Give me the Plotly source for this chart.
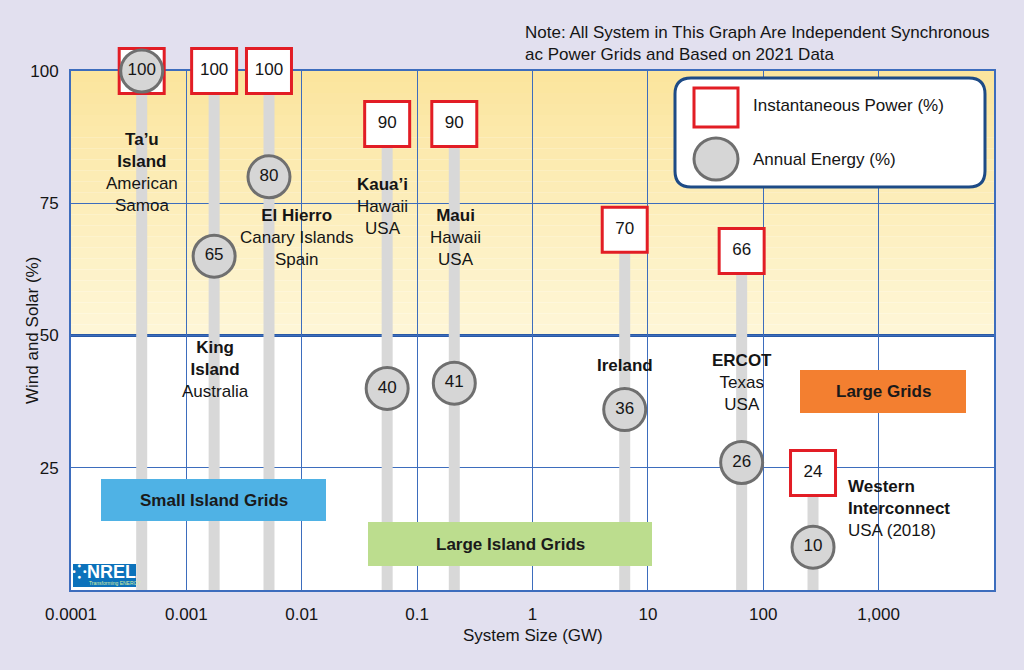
import plotly.graph_objects as go

# ---------------- data ----------------
grid_names = ["Ta’u Island", "King Island", "El Hierro", "Kaua’i", "Maui",
              "Ireland", "ERCOT", "Western Interconnect"]
system_size_gw = [0.00041, 0.00174, 0.0052, 0.055, 0.21, 6.3, 65, 270]
instantaneous_power_pct = [100, 100, 100, 90, 90, 70, 66, 24]
annual_energy_pct = [100, 65, 80, 40, 41, 36, 26, 10]

x_tick_values = [0.0001, 0.001, 0.01, 0.1, 1, 10, 100, 1000]
x_tick_labels = ["0.0001", "0.001", "0.01", "0.1", "1", "10", "100", "1,000"]
y_tick_values = [25, 50, 75, 100]

grid_label_lines = [
    "<b>Ta’u<br>Island</b><br>American<br>Samoa",
    "<b>King<br>Island</b><br>Australia",
    "<b>El Hierro</b><br>Canary Islands<br>Spain",
    "<b>Kaua’i</b><br>Hawaii<br>USA",
    "<b>Maui</b><br>Hawaii<br>USA",
    "<b>Ireland</b>",
    "<b>ERCOT</b><br>Texas<br>USA",
    "<b>Western<br>Interconnect</b><br>USA (2018)",
]
category_names = ["Small Island Grids", "Large Island Grids", "Large Grids"]
note_text = ("Note: All System in This Graph Are Independent Synchronous<br>"
             "ac Power Grids and Based on 2021 Data")

# ---------------- layout geometry (pixels) ----------------
W_FIG, H_FIG = 1024, 670
L, R, T, B = 71, 994, 71, 590
PW, PH = R - L, B - T
FONT = "Liberation Sans, Arial, Helvetica, sans-serif"
FS = 17
BG = "#e2e0ef"
BLUE = "#3d6dbd"
DARKBLUE = "#2a5aa6"
TXT = "#151515"


def px(x):
    return (x - L) / PW


def py(y):
    return (B - y) / PH


fig = go.Figure()

# rods
rx, ry = [], []
for s, v in zip(system_size_gw, instantaneous_power_pct):
    rx += [s, s, None]
    ry += [0, v, None]
fig.add_trace(go.Scatter(x=rx, y=ry, mode="lines",
                         line=dict(color="#d8d8d8", width=11),
                         hoverinfo="skip", showlegend=False))

# instantaneous power squares
fig.add_trace(go.Scatter(
    x=system_size_gw, y=instantaneous_power_pct, mode="markers+text",
    text=[str(v) for v in instantaneous_power_pct], textposition="middle center",
    textfont=dict(family=FONT, size=FS, color=TXT),
    marker=dict(symbol="square", size=45, color="white",
                line=dict(color="#e21d25", width=3)),
    cliponaxis=False, showlegend=False, name="Instantaneous Power (%)"))

# annual energy circles
fig.add_trace(go.Scatter(
    x=system_size_gw, y=annual_energy_pct, mode="markers+text",
    text=[str(v) for v in annual_energy_pct], textposition="middle center",
    textfont=dict(family=FONT, size=FS, color=TXT),
    marker=dict(symbol="circle", size=42, color="#d6d6d6",
                line=dict(color="#6f6f6f", width=3)),
    cliponaxis=False, showlegend=False, name="Annual Energy (%)"))

shapes = []
# yellow gradient band 50-100
n = 24
c_top = (251, 229, 158)
c_bot = (254, 246, 214)
for i in range(n):
    f = i / (n - 1)
    col = tuple(round(c_bot[k] + (c_top[k] - c_bot[k]) * f) for k in range(3))
    shapes.append(dict(type="rect", xref="paper", yref="y", layer="below",
                       x0=0, x1=1, y0=50 + 50 * i / n, y1=50 + 50 * (i + 1) / n,
                       line=dict(width=0), fillcolor="rgb(%d,%d,%d)" % col))
# thick 50 line
shapes.append(dict(type="line", xref="paper", yref="y", layer="between",
                   x0=0, x1=1, y0=50, y1=50, line=dict(color=DARKBLUE, width=3)))

# category boxes
cat_boxes = [(101, 479, 326, 521, "#4fb2e5"),
             (368, 522, 652, 566, "#bcdd8e"),
             (800, 370, 966, 413, "#f37f30")]
for (x0, y0, x1, y1, c) in cat_boxes:
    shapes.append(dict(type="rect", xref="paper", yref="paper", layer="above",
                       x0=px(x0), x1=px(x1), y0=py(y1), y1=py(y0),
                       line=dict(width=0), fillcolor=c))

# NREL logo box
shapes.append(dict(type="rect", xref="paper", yref="paper", layer="above",
                   x0=px(73), x1=px(136), y0=py(587), y1=py(564),
                   line=dict(width=0), fillcolor="#0c72bb"))


# legend rounded box
def rrect(x0, y0, x1, y1, r):
    def P(x, y):
        return "%f,%f" % (px(x), py(y))
    return ("M %s L %s Q %s %s L %s Q %s %s L %s Q %s %s L %s Q %s %s Z" % (
        P(x0 + r, y0), P(x1 - r, y0), P(x1, y0), P(x1, y0 + r),
        P(x1, y1 - r), P(x1, y1), P(x1 - r, y1),
        P(x0 + r, y1), P(x0, y1), P(x0, y1 - r),
        P(x0, y0 + r), P(x0, y0), P(x0 + r, y0)))


shapes.append(dict(type="path", xref="paper", yref="paper", layer="above",
                   path=rrect(675, 78, 985, 187, 16),
                   line=dict(color="#1d4b86", width=3), fillcolor="white"))
shapes.append(dict(type="rect", xref="paper", yref="paper", layer="above",
                   x0=px(694), x1=px(738), y0=py(127), y1=py(88),
                   line=dict(color="#e21d25", width=3), fillcolor="white"))
shapes.append(dict(type="circle", xref="paper", yref="paper", layer="above",
                   x0=px(694), x1=px(738), y0=py(180), y1=py(138),
                   line=dict(color="#6f6f6f", width=3), fillcolor="#d6d6d6"))

annotations = []
# grid labels (pixel placement)
label_pos = [(142, 172, "center"), (215, 369, "center"), (296, 237, "center"),
             (382, 206, "center"), (455, 237, "center"), (625, 365, "center"),
             (742, 382, "center"), (846, 508, "left")]
for txt, (x, y, al) in zip(grid_label_lines, label_pos):
    annotations.append(dict(text=txt, xref="paper", yref="paper",
                            x=px(x), y=py(y), xanchor="center" if al == "center" else "left",
                            yanchor="middle", align=al, showarrow=False,
                            font=dict(family=FONT, size=FS, color=TXT)))

# category labels
for name, (x0, y0, x1, y1, c) in zip(category_names, cat_boxes):
    annotations.append(dict(text="<b>%s</b>" % name, xref="paper", yref="paper",
                            x=px((x0 + x1) / 2), y=py((y0 + y1) / 2),
                            xanchor="center", yanchor="middle", showarrow=False,
                            font=dict(family=FONT, size=FS, color="#1a1a1a")))

# legend text
annotations.append(dict(text="Instantaneous Power (%)", xref="paper", yref="paper",
                        x=px(751), y=py(106), xanchor="left", yanchor="middle",
                        showarrow=False, font=dict(family=FONT, size=FS, color=TXT)))
annotations.append(dict(text="Annual Energy (%)", xref="paper", yref="paper",
                        x=px(751), y=py(159), xanchor="left", yanchor="middle",
                        showarrow=False, font=dict(family=FONT, size=FS, color=TXT)))
# note
annotations.append(dict(text=note_text, xref="paper", yref="paper",
                        x=px(523), y=py(44), xanchor="left", yanchor="middle",
                        align="left", showarrow=False,
                        font=dict(family=FONT, size=FS, color=TXT)))
# axis titles
annotations.append(dict(text="Wind and Solar (%)", xref="paper", yref="paper",
                        x=px(32), y=py(331), xanchor="center", yanchor="middle",
                        textangle=-90, showarrow=False,
                        font=dict(family=FONT, size=FS, color=TXT)))
annotations.append(dict(text="System Size (GW)", xref="paper", yref="paper",
                        x=px(533), y=py(635), xanchor="center", yanchor="middle",
                        showarrow=False, font=dict(family=FONT, size=FS, color=TXT)))
# NREL logo text
annotations.append(dict(text="<b>⁘NREL</b>", xref="paper", yref="paper",
                        x=px(104), y=py(572), xanchor="center", yanchor="middle",
                        showarrow=False, font=dict(family=FONT, size=18, color="white")))
annotations.append(dict(text="Transforming ENERGY", xref="paper", yref="paper",
                        x=px(115), y=py(583), xanchor="center", yanchor="middle",
                        showarrow=False, font=dict(family=FONT, size=5, color="#d8f0a0")))

fig.update_layout(
    width=W_FIG, height=H_FIG,
    margin=dict(l=L, r=W_FIG - R, t=T, b=H_FIG - B),
    paper_bgcolor=BG, plot_bgcolor="white",
    font=dict(family=FONT, size=FS, color=TXT),
    shapes=shapes, annotations=annotations, showlegend=False,
    xaxis=dict(type="log", range=[-4, 4], tickvals=x_tick_values,
               ticktext=x_tick_labels, showgrid=True, gridcolor=BLUE, gridwidth=1.4,
               showline=True, linecolor=BLUE, linewidth=2, mirror=True,
               layer="below traces",
               ticks="", ticklabelstandoff=8, zeroline=False,
               tickfont=dict(family=FONT, size=FS, color=TXT)),
    yaxis=dict(range=[1.9, 100], tickvals=y_tick_values, showgrid=True,
               gridcolor=BLUE, gridwidth=1.4, showline=True, linecolor=BLUE,
               linewidth=2, mirror=True, ticks="", ticklabelstandoff=7,
               layer="below traces",
               zeroline=False, tickfont=dict(family=FONT, size=FS, color=TXT)),
)

fig.write_html("out.html", config={"displayModeBar": False},
               post_script="document.body.style.margin='0';")
